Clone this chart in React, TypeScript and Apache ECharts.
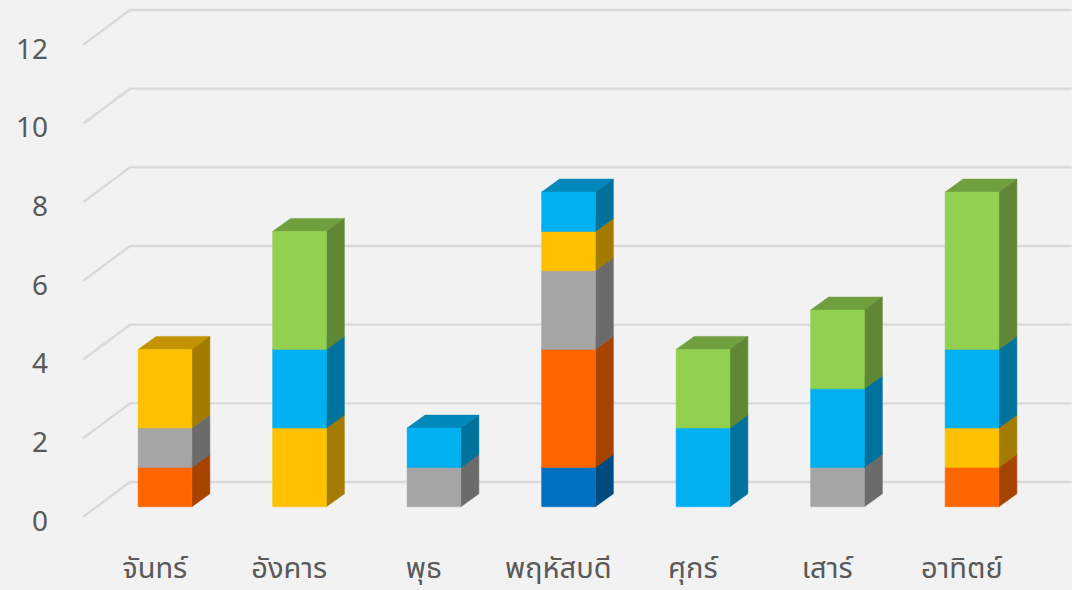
import React, { useEffect, useRef } from "react";
import * as echarts from "echarts";

const categories = ["จันทร์", "อังคาร", "พุธ", "พฤหัสบดี", "ศุกร์", "เสาร์", "อาทิตย์"];
const yTicks = [0, 2, 4, 6, 8, 10, 12];

const series1 = [0, 0, 0, 1, 0, 0, 0];
const series2 = [1, 0, 0, 3, 0, 0, 1];
const series3 = [1, 0, 1, 2, 0, 1, 0];
const series4 = [2, 2, 0, 1, 0, 0, 1];
const series5 = [0, 2, 1, 1, 2, 2, 2];
const series6 = [0, 3, 0, 0, 2, 2, 4];
const seriesValues = [series1, series2, series3, series4, series5, series6];

const frontColors = ["#0070C0", "#FF6600", "#A5A5A5", "#FFC000", "#00B0F0", "#92D050"];
const sideColors = ["#004A80", "#A64300", "#6B6B6B", "#A37B00", "#00729C", "#5F8734"];
const topColors = ["#005A9A", "#C75000", "#848484", "#C29200", "#0088BA", "#709F3E"];

const BACK_DX = 47;
const BACK_DY = -35;
const BAR_DX = 14.75;
const BAR_DY = -10.25;
const DEPTH_DX = 18;
const DEPTH_DY = -13;

export default function App() {
  const ref = useRef<HTMLDivElement>(null);
  useEffect(() => {
    document.body.style.margin = "0";
    const chart = echarts.init(ref.current!, undefined, { renderer: "svg" });

    const stacks: any[] = seriesValues.map((vals, s) =>
      vals.map((v, i) => {
        let base = 0;
        for (let k = 0; k < s; k++) base += seriesValues[k][i];
        return [i, base, base + v];
      }).filter((d) => d[2] > d[1])
    );

    const barSeries = stacks.map((data, s) => ({
      type: "custom",
      name: "ชุด " + (s + 1),
      clip: false,
      z: 3 + s,
      encode: { x: 0, y: [1, 2] },
      data,
      renderItem: (_p: any, api: any) => {
        const i = api.value(0);
        const [cx, y0] = api.coord([i, api.value(1)]);
        const [, y1] = api.coord([i, api.value(2)]);
        const w = api.size([1, 0])[0] * 0.4;
        const x0 = cx - w / 2 + BAR_DX;
        const x1 = x0 + w;
        const b = y0 + BAR_DY;
        const t = y1 + BAR_DY;
        const poly = (points: number[][], fill: string) => ({
          type: "polygon",
          shape: { points },
          style: { fill, stroke: fill, lineWidth: 0.5 },
        });
        return {
          type: "group",
          children: [
            poly([[x0, t], [x1, t], [x1 + DEPTH_DX, t + DEPTH_DY], [x0 + DEPTH_DX, t + DEPTH_DY]], topColors[s]),
            poly([[x1, b], [x1 + DEPTH_DX, b + DEPTH_DY], [x1 + DEPTH_DX, t + DEPTH_DY], [x1, t]], sideColors[s]),
            poly([[x0, b], [x1, b], [x1, t], [x0, t]], frontColors[s]),
          ],
        };
      },
    }));

    chart.setOption({
      animation: false,
      backgroundColor: "#F2F2F2",
      grid: { left: 83, right: 47.5, top: 45, bottom: 73 },
      xAxis: {
        type: "category",
        data: categories,
        axisLine: { show: false },
        axisTick: { show: false },
        axisLabel: {
          color: "#595959",
          fontSize: 29,
          fontFamily: "Noto Sans, Noto Sans Thai, DejaVu Sans, sans-serif",
          margin: 35,
          padding: [0, 0, 0, 9],
          interval: 0,
        },
      },
      yAxis: {
        type: "value",
        min: 0,
        max: 12,
        interval: 2,
        splitLine: { show: false },
        axisLine: { show: false },
        axisTick: { show: false },
        axisLabel: {
          color: "#595959",
          fontSize: 28,
          fontFamily: "Noto Sans, DejaVu Sans, sans-serif",
          margin: 35,
          verticalAlign: "top",
          lineHeight: 5,
        },
      },
      series: [
        {
          type: "custom",
          name: "grid",
          clip: false,
          silent: true,
          z: 1,
          encode: { x: 0, y: 1 },
          data: yTicks.map((v) => [0, v]),
          renderItem: (p: any, api: any) => {
            const y = api.coord([0, api.value(1)])[1];
            const cs = p.coordSys;
            return {
              type: "polyline",
              shape: {
                points: [
                  [cs.x, y],
                  [cs.x + BACK_DX, y + BACK_DY],
                  [cs.x + cs.width + BACK_DX, y + BACK_DY],
                ],
              },
              style: { stroke: "#D9D9D9", lineWidth: 2.4, fill: "none" },
            };
          },
        },
        ...barSeries,
      ],
    });
    return () => chart.dispose();
  }, []);
  return <div ref={ref} style={{ width: 1072, height: 590 }} />;
}
